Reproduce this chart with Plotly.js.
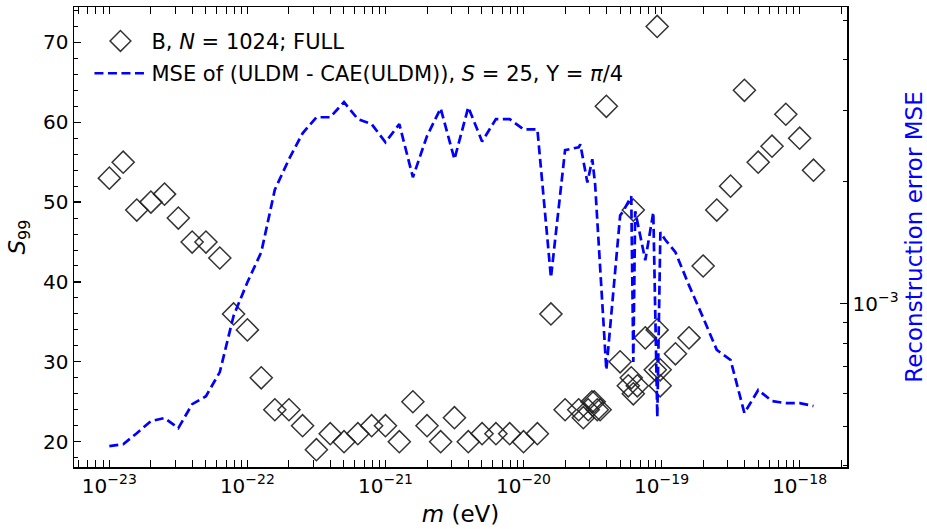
<!DOCTYPE html>
<html>
<head>
<meta charset="utf-8">
<script src="https://cdn.plot.ly/plotly-3.0.1.min.js"></script>
<style>
  html, body { margin: 0; padding: 0; background: #fff; }
  #chart { width: 927px; height: 529px; }
</style>
</head>
<body>
<div id="chart"></div>
<script>
// ---- Diamonds: S99 vs particle mass m (eV) ----
const massDiamonds = [
  1.00e-23, 1.26e-23, 1.58e-23, 2.00e-23, 2.51e-23, 3.16e-23, 3.98e-23, 5.01e-23, 6.31e-23, 7.94e-23,
  1.00e-22, 1.26e-22, 1.58e-22, 2.00e-22, 2.51e-22, 3.16e-22, 3.98e-22, 5.01e-22, 6.31e-22, 7.94e-22,
  1.00e-21, 1.26e-21, 1.58e-21, 2.00e-21, 2.51e-21, 3.16e-21, 3.98e-21, 5.01e-21, 6.31e-21, 7.94e-21,
  1.00e-20, 1.26e-20, 1.58e-20, 2.00e-20, 2.51e-20, 2.71e-20, 2.94e-20, 3.13e-20, 3.25e-20, 3.42e-20,
  3.59e-20, 3.98e-20, 5.01e-20, 5.74e-20, 6.03e-20, 6.24e-20, 6.24e-20, 6.67e-20, 7.62e-20, 9.00e-20,
  9.29e-20, 9.29e-20, 9.77e-20, 9.77e-20, 1.26e-19, 1.58e-19, 2.00e-19, 2.51e-19, 3.16e-19, 3.98e-19,
  5.01e-19, 6.31e-19, 7.94e-19, 1.00e-18, 1.26e-18
];
const s99Values = [
  53, 55, 49, 50, 51, 48, 45, 45, 43, 36,
  34, 28, 24, 24, 22, 19, 21, 20, 21, 22,
  22, 20, 25, 22, 20, 23, 20, 21, 21, 21,
  20, 21, 36, 24, 24, 23, 24, 25, 25, 24,
  24, 62, 30, 27, 28, 26, 49, 27, 33, 29,
  34, 72, 29, 27, 31, 33, 42, 49, 52, 64,
  55, 57, 61, 58, 54
];

// ---- Dashed line: reconstruction MSE vs m (eV) ----
const massMSE = [
  1.00e-23, 1.26e-23, 1.58e-23, 2.00e-23, 2.51e-23, 3.16e-23, 3.98e-23, 5.01e-23, 6.31e-23, 7.94e-23,
  1.00e-22, 1.26e-22, 1.58e-22, 2.00e-22, 2.51e-22, 3.16e-22, 3.98e-22, 5.01e-22, 6.31e-22, 7.94e-22,
  1.00e-21, 1.26e-21, 1.58e-21, 2.00e-21, 2.51e-21, 3.16e-21, 3.98e-21, 5.01e-21, 6.31e-21, 7.94e-21,
  1.00e-20, 1.26e-20, 1.58e-20, 2.00e-20, 2.51e-20, 2.58e-20, 2.90e-20, 3.15e-20, 3.30e-20, 3.98e-20,
  5.01e-20, 5.27e-20, 6.03e-20, 6.24e-20, 6.44e-20, 7.62e-20, 8.71e-20, 9.31e-20, 9.80e-20, 1.06e-19,
  1.26e-19, 1.58e-19, 2.00e-19, 2.51e-19, 3.16e-19, 3.98e-19, 5.01e-19, 6.31e-19, 7.94e-19, 1.00e-18,
  1.26e-18
];
const mseValues = [
  4.46e-4, 4.51e-4, 4.80e-4, 5.14e-4, 5.23e-4, 4.94e-4, 5.66e-4, 5.92e-4, 6.79e-4, 9.34e-4,
  1.13e-3, 1.34e-3, 1.91e-3, 2.27e-3, 2.63e-3, 2.88e-3, 2.88e-3, 3.14e-3, 2.85e-3, 2.77e-3,
  2.50e-3, 2.77e-3, 2.05e-3, 2.59e-3, 3.03e-3, 2.27e-3, 3.05e-3, 2.51e-3, 2.85e-3, 2.85e-3,
  2.69e-3, 2.69e-3, 1.16e-3, 2.39e-3, 2.43e-3, 2.47e-3, 1.99e-3, 2.27e-3, 1.97e-3, 6.87e-4,
  1.65e-3, 1.69e-3, 1.84e-3, 7.19e-4, 1.69e-3, 1.28e-3, 1.68e-3, 5.26e-4, 1.50e-3, 1.44e-3,
  1.34e-3, 1.11e-3, 9.24e-4, 7.70e-4, 7.27e-4, 5.38e-4, 6.13e-4, 5.76e-4, 5.69e-4, 5.69e-4,
  5.60e-4
];

// ---- Tick labels ----
const xTickVals = [1e-23, 1e-22, 1e-21, 1e-20, 1e-19, 1e-18];
const xTickText = ['10<sup>\u221223</sup>', '10<sup>\u221222</sup>', '10<sup>\u221221</sup>',
                   '10<sup>\u221220</sup>', '10<sup>\u221219</sup>', '10<sup>\u221218</sup>'];
const yTickVals = [20, 30, 40, 50, 60, 70];
const y2TickVals = [1e-3];
const y2TickText = ['10<sup>\u22123</sup>'];
const y2MinorVals = [4e-4, 5e-4, 6e-4, 7e-4, 8e-4, 9e-4, 2e-3, 3e-3, 4e-3, 5e-3];

const xMinorVals = [];
for (let e = -24; e <= -18; e++) {
  for (let d = 2; d <= 9; d++) xMinorVals.push(d * Math.pow(10, e));
}

const FONT = 'DejaVu Sans, Liberation Sans, sans-serif';

const traces = [
  {
    x: massDiamonds, y: s99Values,
    type: 'scatter', mode: 'markers',
    name: 'B, <i>N</i> = 1024; FULL',
    legendgroup: 'a',
    marker: { symbol: 'diamond-open', size: 17, color: 'rgba(30,30,30,0.9)', line: { width: 1.5 } },
    xaxis: 'x', yaxis: 'y'
  },
  {
    x: massMSE, y: mseValues,
    type: 'scatter', mode: 'lines',
    name: 'MSE of (ULDM - CAE(ULDM)), <i>S</i> = 25, \u03A5 = <i>\u03C0</i>/4',
    legendgroup: 'b',
    line: { color: '#0000ff', width: 2.7, dash: '9px,4.5px' },
    xaxis: 'x', yaxis: 'y2'
  }
];

const layout = {
  width: 927, height: 529,
  margin: { l: 74, r: 80, t: 7, b: 62 },
  paper_bgcolor: '#fff', plot_bgcolor: '#fff',
  font: { family: FONT, size: 20, color: '#000' },
  showlegend: true,
  legend: {
    x: 0.02, y: 0.97, xanchor: 'left', yanchor: 'top',
    bgcolor: 'rgba(255,255,255,0)', borderwidth: 0,
    font: { family: FONT, size: 21, color: '#000' },
    itemwidth: 52, traceorder: 'grouped', tracegroupgap: 2
  },
  xaxis: {
    type: 'log', range: [-23.256, -17.657],
    tickmode: 'array', tickvals: xTickVals, ticktext: xTickText,
    ticks: 'inside', ticklen: 7, tickwidth: 1.3, tickcolor: '#000',
    showline: true, linecolor: '#000', linewidth: 1.5, mirror: 'allticks',
    showgrid: false, zeroline: false,
    minor: { tickmode: 'array', tickvals: xMinorVals, ticks: 'inside', ticklen: 4, tickwidth: 1, tickcolor: '#000', showgrid: false },
    tickfont: { family: FONT, size: 20 },
    title: { text: '<i>m</i> (eV)', font: { family: FONT, size: 23 }, standoff: 9 }
  },
  yaxis: {
    range: [16.83, 74.43],
    tickmode: 'array', tickvals: yTickVals,
    ticks: 'inside', ticklen: 7, tickwidth: 1.3, tickcolor: '#000',
    showline: true, linecolor: '#000', linewidth: 1.5, mirror: true,
    showgrid: false, zeroline: false,
    minor: { dtick: 2, ticks: 'inside', ticklen: 4, tickwidth: 1, tickcolor: '#000', showgrid: false },
    tickfont: { family: FONT, size: 20 },
    title: { text: '<i>S</i><sub>99</sub>', font: { family: FONT, size: 23 }, standoff: 11 }
  },
  yaxis2: {
    type: 'log', range: [-3.402, -2.269],
    overlaying: 'y', side: 'right',
    tickmode: 'array', tickvals: y2TickVals, ticktext: y2TickText,
    ticks: 'inside', ticklen: 7, tickwidth: 1.3, tickcolor: '#000',
    showline: true, linecolor: '#000', linewidth: 1.5,
    showgrid: false, zeroline: false,
    minor: { tickmode: 'array', tickvals: y2MinorVals, ticks: 'inside', ticklen: 4, tickwidth: 1, tickcolor: '#000', showgrid: false },
    tickfont: { family: FONT, size: 20 },
    title: { text: 'Reconstruction error MSE', font: { family: FONT, size: 23, color: '#0000ff' }, standoff: 12 }
  }
};

Plotly.newPlot('chart', traces, layout, { displayModeBar: false, staticPlot: true });
</script>
</body>
</html>
